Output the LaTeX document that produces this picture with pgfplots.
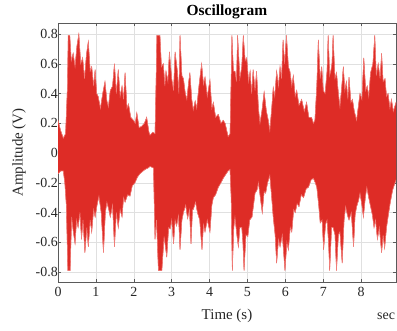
\documentclass[border=0pt]{standalone}
\usepackage{pgfplots}
\pgfplotsset{compat=1.18}
\usepackage{pgfplotstable}
\usepackage{fontspec}
\setmainfont{Liberation Serif}
\definecolor{sigred}{RGB}{222,44,38}
\definecolor{sigpink}{RGB}{240,125,120}
\definecolor{axgray}{RGB}{90,90,90}
\definecolor{txtgray}{RGB}{38,38,38}

\pgfplotstableread{
t y
0 0.22
0.07 0.15
0.14 0.10
0.20 0.13
0.25 0.45
0.27 0.79
0.31 0.79
0.35 0.62
0.40 0.67
0.45 0.58
0.50 0.72
0.55 0.80
0.60 0.60
0.65 0.64
0.70 0.50
0.75 0.66
0.80 0.75
0.85 0.55
0.89 0.58
0.94 0.45
0.98 0.56
1.02 0.40
1.06 0.38
1.12 0.30
1.18 0.40
1.24 0.48
1.29 0.35
1.33 0.31
1.38 0.42
1.44 0.45
1.49 0.60
1.54 0.40
1.59 0.56
1.64 0.38
1.69 0.45
1.73 0.36
1.77 0.54
1.82 0.30
1.86 0.33
1.92 0.24
1.99 0.22
2.04 0.20
2.08 0.27
2.14 0.17
2.21 0.18
2.28 0.20
2.34 0.24
2.40 0.14
2.43 0.12
2.50 0.14
2.56 0.13
2.59 0.50
2.61 0.79
2.69 0.79
2.73 0.58
2.78 0.60
2.82 0.45
2.85 0.55
2.90 0.48
2.94 0.68
3.00 0.50
3.05 0.42
3.09 0.68
3.15 0.55
3.19 0.40
3.22 0.79
3.27 0.52
3.31 0.50
3.36 0.40
3.40 0.36
3.45 0.48
3.48 0.54
3.53 0.36
3.57 0.29
3.62 0.35
3.66 0.30
3.72 0.45
3.79 0.60
3.84 0.46
3.88 0.51
3.94 0.38
4.01 0.49
4.06 0.30
4.10 0.34
4.16 0.24
4.23 0.26
4.30 0.20
4.36 0.22
4.41 0.20
4.49 0.11
4.54 0.13
4.57 0.50
4.59 0.79
4.63 0.55
4.67 0.55
4.71 0.48
4.74 0.79
4.78 0.60
4.80 0.50
4.85 0.58
4.89 0.79
4.94 0.62
4.98 0.64
5.03 0.48
5.07 0.55
5.11 0.40
5.15 0.56
5.20 0.42
5.24 0.55
5.29 0.30
5.33 0.20
5.38 0.28
5.44 0.41
5.50 0.28
5.55 0.22
5.59 0.15
5.64 0.30
5.68 0.44
5.72 0.38
5.77 0.55
5.82 0.45
5.86 0.58
5.90 0.50
5.94 0.76
5.98 0.60
6.03 0.79
6.08 0.58
6.12 0.55
6.17 0.45
6.21 0.52
6.26 0.38
6.30 0.42
6.36 0.32
6.43 0.36
6.50 0.28
6.56 0.34
6.62 0.24
6.69 0.24
6.74 0.20
6.78 0.22
6.83 0.45
6.87 0.76
6.92 0.50
6.96 0.58
7.00 0.42
7.05 0.40
7.10 0.55
7.13 0.79
7.17 0.52
7.20 0.55
7.23 0.60
7.26 0.79
7.31 0.50
7.35 0.54
7.40 0.40
7.44 0.31
7.49 0.45
7.53 0.58
7.57 0.42
7.61 0.48
7.65 0.36
7.68 0.51
7.73 0.34
7.77 0.36
7.82 0.28
7.88 0.22
7.92 0.30
7.97 0.40
8.02 0.36
8.07 0.64
8.12 0.42
8.16 0.45
8.20 0.38
8.25 0.54
8.31 0.60
8.36 0.79
8.40 0.52
8.45 0.60
8.50 0.50
8.54 0.67
8.58 0.48
8.63 0.50
8.67 0.38
8.71 0.40
8.76 0.30
8.80 0.36
8.85 0.28
8.92 0.34
}\upperenv

\pgfplotstableread{
t y
0 -0.14
0.07 -0.12
0.14 -0.12
0.18 -0.20
0.22 -0.35
0.26 -0.79
0.32 -0.79
0.36 -0.43
0.40 -0.52
0.45 -0.61
0.49 -0.45
0.53 -0.50
0.58 -0.40
0.62 -0.58
0.66 -0.45
0.71 -0.67
0.76 -0.50
0.80 -0.63
0.85 -0.45
0.89 -0.53
0.94 -0.38
0.98 -0.43
1.03 -0.35
1.08 -0.29
1.14 -0.40
1.20 -0.67
1.25 -0.40
1.29 -0.33
1.34 -0.38
1.38 -0.43
1.44 -0.35
1.49 -0.63
1.54 -0.40
1.59 -0.50
1.64 -0.38
1.69 -0.43
1.73 -0.30
1.77 -0.33
1.84 -0.28
1.90 -0.29
1.96 -0.22
2.03 -0.20
2.10 -0.16
2.16 -0.14
2.25 -0.12
2.30 -0.11
2.38 -0.10
2.43 -0.09
2.52 -0.10
2.56 -0.58
2.60 -0.45
2.65 -0.79
2.74 -0.79
2.80 -0.56
2.87 -0.70
2.92 -0.50
2.96 -0.51
3.00 -0.45
3.05 -0.61
3.09 -0.45
3.13 -0.49
3.18 -0.42
3.22 -0.65
3.27 -0.45
3.31 -0.40
3.37 -0.35
3.42 -0.44
3.47 -0.38
3.51 -0.61
3.55 -0.38
3.57 -0.38
3.63 -0.33
3.68 -0.40
3.74 -0.45
3.80 -0.65
3.84 -0.48
3.88 -0.53
3.94 -0.45
4.01 -0.53
4.06 -0.35
4.10 -0.30
4.16 -0.28
4.23 -0.23
4.30 -0.20
4.36 -0.17
4.41 -0.15
4.49 -0.12
4.54 -0.11
4.57 -0.30
4.60 -0.79
4.64 -0.50
4.67 -0.43
4.72 -0.55
4.76 -0.63
4.80 -0.50
4.85 -0.50
4.88 -0.60
4.91 -0.79
4.96 -0.55
5.01 -0.56
5.06 -0.45
5.12 -0.43
5.16 -0.35
5.20 -0.27
5.25 -0.25
5.29 -0.20
5.34 -0.30
5.39 -0.40
5.44 -0.26
5.48 -0.27
5.53 -0.20
5.59 -0.15
5.64 -0.30
5.68 -0.43
5.73 -0.55
5.77 -0.74
5.82 -0.58
5.86 -0.63
5.92 -0.55
5.99 -0.79
6.04 -0.60
6.08 -0.65
6.13 -0.50
6.17 -0.53
6.22 -0.38
6.26 -0.40
6.31 -0.34
6.36 -0.36
6.42 -0.28
6.48 -0.30
6.55 -0.24
6.61 -0.23
6.68 -0.18
6.74 -0.17
6.79 -0.20
6.83 -0.23
6.88 -0.35
6.92 -0.47
6.97 -0.45
7.01 -0.65
7.06 -0.48
7.10 -0.45
7.14 -0.60
7.17 -0.79
7.22 -0.50
7.26 -0.50
7.31 -0.55
7.35 -0.79
7.40 -0.55
7.44 -0.53
7.50 -0.74
7.55 -0.45
7.59 -0.36
7.64 -0.42
7.68 -0.45
7.74 -0.40
7.80 -0.63
7.84 -0.42
7.88 -0.36
7.93 -0.32
7.97 -0.27
8.02 -0.35
8.06 -0.43
8.11 -0.30
8.15 -0.23
8.20 -0.30
8.25 -0.36
8.30 -0.42
8.34 -0.50
8.38 -0.45
8.43 -0.58
8.48 -0.50
8.54 -0.67
8.58 -0.55
8.62 -0.64
8.67 -0.50
8.71 -0.43
8.77 -0.33
8.83 -0.25
8.92 -0.18
}\lowerenv

\begin{document}
\begin{tikzpicture}
\begin{axis}[
  scale only axis,
  width=338bp, height=259bp,
  xmin=0, xmax=8.92,
  ymin=-0.867, ymax=0.874,
  xtick={0,1,2,3,4,5,6,7,8},
  xticklabels={0,1,2,3,4,5,6,7,8},
  ytick={-0.8,-0.6,-0.4,-0.2,0,0.2,0.4,0.6,0.8},
  yticklabels={-0.8,-0.6,-0.4,-0.2,0,0.2,0.4,0.6,0.8},
  tick align=inside,
  tick pos=both,
  major tick length=3bp,
  grid=major,
  grid style={color=black!12, line width=0.4pt},
  axis line style={color=axgray, line width=0.5pt},
  tick style={color=axgray, line width=0.5pt},
  ticklabel style={font=\fontsize{14}{16}\selectfont, color=txtgray, inner sep=1bp},
  xticklabel style={yshift=-4bp},
  yticklabel style={xshift=1bp},
]
\addplot[fill=sigred, draw=sigred, line width=0.3pt] table[x=t,y=y] {\upperenv} \closedcycle;
\addplot[fill=sigred, draw=sigred, line width=0.3pt] table[x=t,y=y] {\lowerenv} \closedcycle;
\addplot[draw=sigpink, line width=0.5pt] table[x=t,y=y] {\upperenv};
\addplot[draw=sigpink, line width=0.5pt] table[x=t,y=y] {\lowerenv};
\coordinate (BL) at (rel axis cs:0,0);
\coordinate (TR) at (rel axis cs:1,1);
\coordinate (TC) at (rel axis cs:0.5,1);
\coordinate (BC) at (rel axis cs:0.5,0);
\coordinate (LC) at (rel axis cs:0,0.5);
\coordinate (BR) at (rel axis cs:1,0);
\end{axis}
\node[font=\bfseries\fontsize{15.5}{18}\selectfont, color=black] at ([yshift=11bp]TC) {Oscillogram};
\node[font=\fontsize{15}{18}\selectfont, color=txtgray] at ([yshift=-34bp]BC) {Time (s)};
\node[font=\fontsize{15}{18}\selectfont, color=txtgray, rotate=90] at ([xshift=-39bp]LC) {Amplitude (V)};
\node[font=\fontsize{14}{16}\selectfont, color=txtgray, anchor=west, inner sep=0pt] at ([shift={(-19bp,-34bp)}]BR) {sec};
\pgfresetboundingbox
\path ([shift={(-58bp,-49bp)}]BL) rectangle ([shift={(1bp,23bp)}]TR);
\end{tikzpicture}
\end{document}
